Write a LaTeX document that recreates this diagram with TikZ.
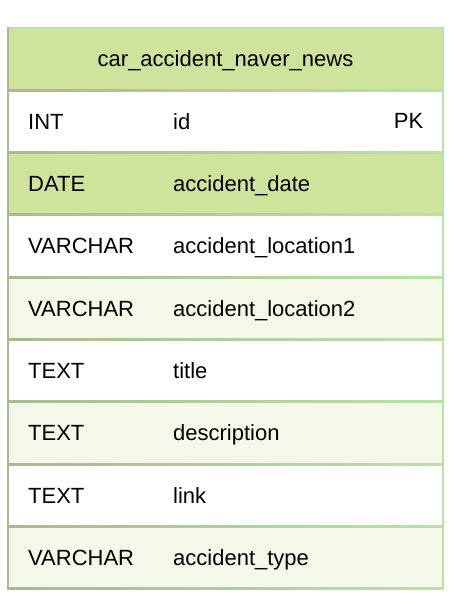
\documentclass[tikz,border=0pt]{standalone}
\usepackage{fontspec}
\setmainfont{Liberation Sans}
\usepackage{xcolor}
\definecolor{hdrgreen}{HTML}{CFE39D}
\definecolor{rowlight}{HTML}{F3F8E9}
\definecolor{bordleft}{HTML}{AAB990}
\definecolor{bordright}{HTML}{B9E2A6}
\tikzset{cell/.style={anchor=base west,inner sep=0pt,font=\fontsize{22}{26}\selectfont}}

\begin{document}
\begin{tikzpicture}[x=1pt,y=-1pt]
\useasboundingbox(0,0)rectangle(464,612);
\fill[white](0,0)rectangle(464,612);
\fill[hdrgreen](8,28)rectangle(443,90.3);
\node[cell,anchor=base](hdr)at(225.5,67){car\_accident\_naver\_news};
\foreach \i/\t/\n/\f in {1/INT/id/white,2/DATE/accident\_date/hdrgreen,3/VARCHAR/accident\_location1/white,
4/VARCHAR/accident\_location2/rowlight,5/TEXT/title/white,6/TEXT/description/rowlight,
7/TEXT/link/white,8/VARCHAR/accident\_type/rowlight}{
\pgfmathsetmacro\ytop{28+62.33*\i}
\fill[\f](8,\ytop)rectangle(443,\ytop+62.33);
\node[cell](t\i)at(28,\ytop+39){\t};
\node[cell](n\i)at(173,\ytop+39){\n};
}
\node[cell,anchor=base east](pk)at(423.5,129){PK};
% borders
\foreach \k in {1,...,9}{
\pgfmathsetmacro\yb{28+62.33*\k}
\shade[left color=bordleft,right color=bordright](8,\yb-1)rectangle(443,\yb+1);
}
\fill[bordright](8,27)rectangle(443,29);
\fill[bordleft](7,27)rectangle(9,590);
\fill[bordright](442,27)rectangle(444,590);
\end{tikzpicture}
\end{document}
